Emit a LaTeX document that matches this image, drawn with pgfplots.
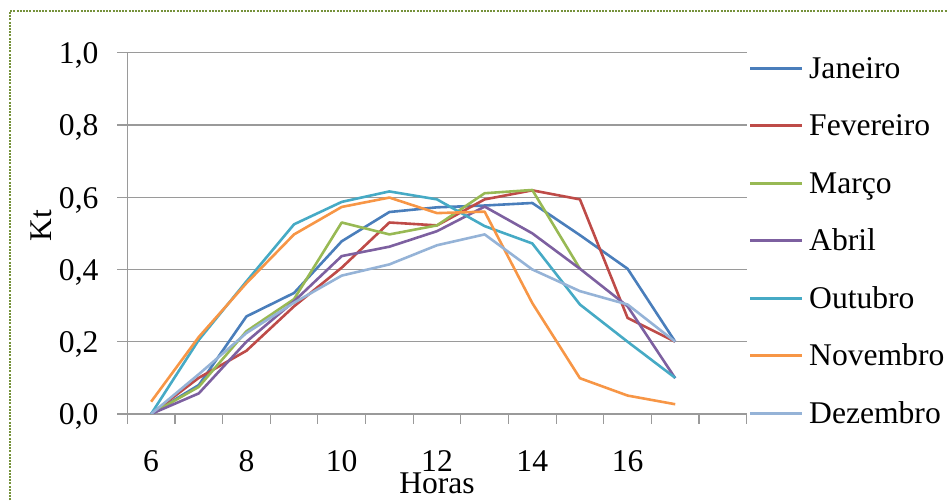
\documentclass[border=0pt]{standalone}
\usepackage{pgfplots}
\pgfplotsset{compat=1.18}
\usepackage{fontspec}
\setmainfont{Liberation Serif}
\usetikzlibrary{calc}
\definecolor{cJan}{HTML}{4A7EBB}
\definecolor{cFev}{HTML}{BE4B48}
\definecolor{cMar}{HTML}{98B954}
\definecolor{cAbr}{HTML}{7D60A0}
\definecolor{cOut}{HTML}{46AAC5}
\definecolor{cNov}{HTML}{F79646}
\definecolor{cDez}{HTML}{95B3D7}
\definecolor{gridgray}{HTML}{9A9A9A}
\definecolor{border}{HTML}{76923C}
\begin{document}
\begin{tikzpicture}[font=\fontsize{15.8pt}{19pt}\selectfont]
\begin{axis}[
  at={(0,0)}, anchor=south west,
  scale only axis, width=309.7pt, height=180.65pt,
  xmin=5.5, xmax=18.5, ymin=0, ymax=1,
  axis x line*=bottom, axis y line*=left,
  axis line style={draw=gridgray, line width=0.6pt},
  ytick={0,0.2,0.4,0.6,0.8,1},
  ymajorgrids, grid style={gridgray, line width=0.6pt},
  tick align=outside, major tick length=5pt,
  tick style={gridgray, line width=0.6pt},
  xtick={5.5,6.5,...,18.5}, xticklabels={},
  extra x ticks={6,8,10,12,14,16},
  extra x tick labels={6,8,10,12,14,16},
  extra x tick style={major tick length=0pt, grid=none},
  /pgf/number format/assume math mode=true,
  yticklabel style={/pgf/number format/.cd, fixed, fixed zerofill, precision=1, use comma, assume math mode=true, /tikz/.cd, anchor=base east, inner sep=0pt, yshift=-5.4pt, xshift=-9.2pt},
  xticklabel style={anchor=base, inner sep=0pt, yshift=-28.85pt},
  xlabel={Horas},
  xlabel style={at={($(axis description cs:0.5,0)+(0,-39.65pt)$)}, anchor=base, inner sep=0pt},
  ylabel={Kt},
  ylabel style={at={($(axis description cs:0,0.5)+(-37.8pt,4pt)$)}, anchor=base, inner sep=0pt},
  legend cell align=left,
  legend style={at={($(axis description cs:1,1)+(1.15pt,-0.3pt)$)}, anchor=north west, draw=none, fill=none, inner sep=0pt, outer sep=0pt, row sep=13.75pt, column sep=2.8pt, nodes={inner sep=0pt, text height=12.5pt, text depth=2.5pt}},
  legend image code/.code={\draw[#1] (0pt,0pt) -- (26pt,0pt);},
  every axis plot/.append style={line width=1.3pt, line join=round},
]
\addplot[cJan] coordinates {(6,0)(7,0.08)(8,0.27)(9,0.335)(10,0.478)(11,0.559)(12,0.572)(13,0.577)(14,0.584)(15,0.495)(16,0.402)(17,0.2)};
\addlegendentry{Janeiro}
\addplot[cFev] coordinates {(6,0)(7,0.1)(8,0.175)(9,0.298)(10,0.405)(11,0.53)(12,0.522)(13,0.594)(14,0.619)(15,0.594)(16,0.266)(17,0.2)};
\addlegendentry{Fevereiro}
\addplot[cMar] coordinates {(6,0)(7,0.075)(8,0.229)(9,0.318)(10,0.53)(11,0.497)(12,0.522)(13,0.611)(14,0.62)(15,0.402)};
\addlegendentry{Março}
\addplot[cAbr] coordinates {(6,0)(7,0.057)(8,0.2)(9,0.312)(10,0.437)(11,0.463)(12,0.506)(13,0.574)(14,0.5)(15,0.402)(16,0.298)(17,0.099)};
\addlegendentry{Abril}
\addplot[cOut] coordinates {(6,0)(7,0.205)(8,0.367)(9,0.525)(10,0.587)(11,0.616)(12,0.594)(13,0.52)(14,0.472)(15,0.303)(16,0.2)(17,0.1)};
\addlegendentry{Outubro}
\addplot[cNov] coordinates {(6,0.034)(7,0.213)(8,0.362)(9,0.497)(10,0.573)(11,0.599)(12,0.556)(13,0.56)(14,0.307)(15,0.099)(16,0.051)(17,0.027)};
\addlegendentry{Novembro}
\addplot[cDez] coordinates {(6,0)(7,0.11)(8,0.224)(9,0.308)(10,0.383)(11,0.414)(12,0.467)(13,0.497)(14,0.4)(15,0.34)(16,0.303)(17,0.2)};
\addlegendentry{Dezembro}
\end{axis}
\pgfresetboundingbox
\path[use as bounding box] (-63.65pt,-43.5pt) rectangle (410.35pt,207pt);
\draw[border, line width=1.1pt, dash pattern=on 1pt off 0.6pt] (-58.65pt,-80pt) rectangle (430pt,201.5pt);
\end{tikzpicture}
\end{document}
